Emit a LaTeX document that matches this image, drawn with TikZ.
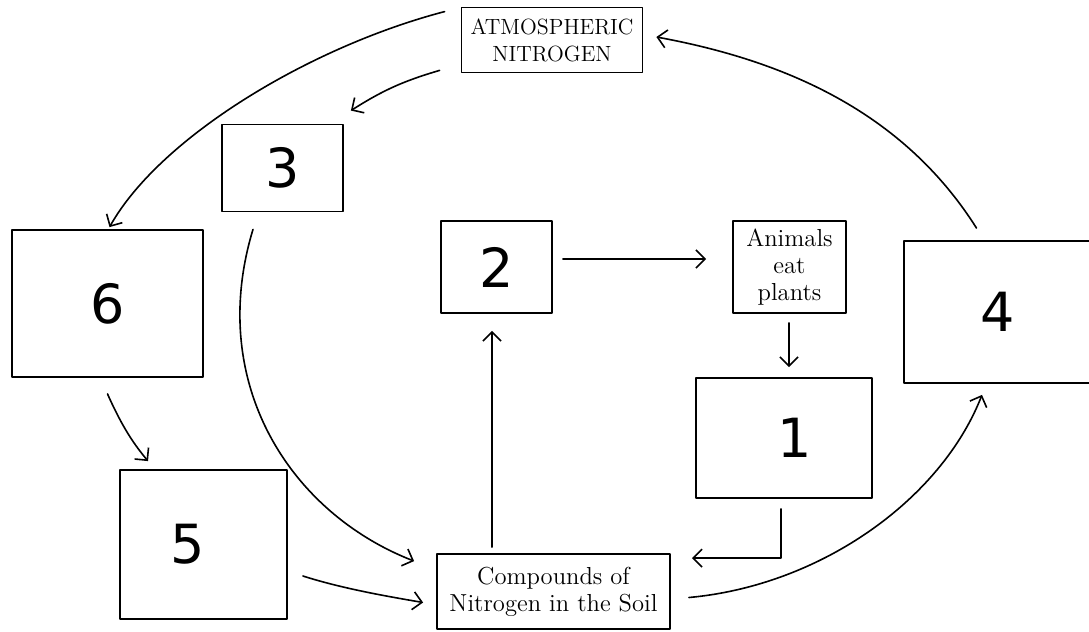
\documentclass[tikz,border=0pt]{standalone}
\usepackage{fontspec}
\newfontfamily\handfont{DejaVu Sans}
\usetikzlibrary{arrows.meta}
\tikzset{
	box/.style={draw, line width=0.9pt, inner sep=0pt, align=center, font=\fontsize{11}{13.5}\selectfont},
	bigbox/.style={box, font=\fontsize{12.3}{13.5}\selectfont},
	digit/.style={font=\handfont\fontsize{27}{30}\selectfont},
	numbox/.style={draw, line width=0.9pt, inner sep=0pt, digit},
	flow/.style={->, line width=0.8pt}
}
\begin{document}
\begin{tikzpicture}[x=0.5pt, y=-0.5pt, line join=round, line cap=round, >={Straight Barb[length=4.5pt,width=9pt]}]
			\useasboundingbox (0,0) rectangle (1089,632);
			\node[box, minimum width=90.5pt, minimum height=32.5pt] (atm) at (552,40) {ATMOSPHERIC\\NITROGEN};
			\node[numbox, minimum width=60.5pt, minimum height=43.5pt] (b3) at (282.5,168) {3};
			\node[numbox, minimum width=95.5pt, minimum height=73.5pt] (b6) at (107.5,303.5) {6};
			\node[numbox, minimum width=55.5pt, minimum height=46pt] (b2) at (496.5,267) {2};
			\node[bigbox, minimum width=56.5pt, minimum height=46pt] (anim) at (789.5,267) {Animals\\eat\\plants};
			\node[numbox, minimum width=88pt, minimum height=60pt] (b1) at (784,438) {};
			\node[digit] (d1) at ([xshift=5.5pt]b1.center) {1};
			\node[numbox, minimum width=94pt, minimum height=71pt] (b4) at (998,312) {4};
			\node[numbox, minimum width=83.5pt, minimum height=74.5pt] (b5) at (203.5,544.5) {};
			\node[digit] (d5) at ([xshift=-8pt]b5.center) {5};
			\node[bigbox, minimum width=116.5pt, minimum height=37.5pt] (soil) at (553.5,591.5) {Compounds of\\Nitrogen in the Soil};
			\draw[flow] ([xshift=-8pt,yshift=-2.5pt]atm.north west) .. controls ([xshift=-75pt,yshift=-20pt]atm.north west) and ([xshift=-150pt,yshift=-65pt]atm.north west) .. ([xshift=1pt,yshift=1pt]b6.north);
			\draw[flow] ([xshift=-10.5pt,yshift=1.5pt]atm.south west) to[bend right=8] ([xshift=3.5pt,yshift=6.5pt]b3.north east);
			\draw[flow] ([xshift=-10.75pt,yshift=6pt]b4.north) .. controls ([xshift=-48pt,yshift=65pt]b4.north) and ([xshift=-108pt,yshift=90pt]b4.north) .. ([xshift=6.5pt,yshift=1.5pt]atm.east);
			\draw[flow] ([xshift=-14.75pt,yshift=-8.5pt]b3.south) .. controls ([xshift=-38pt,yshift=-85pt]b3.south) and ([xshift=3.5pt,yshift=-150pt]b3.south) .. ([xshift=-11pt,yshift=-4pt]soil.north west);
			\draw[flow] ([yshift=-8pt]b6.south) .. controls ([xshift=8pt,yshift=-26pt]b6.south) and ([xshift=14pt,yshift=-34pt]b6.south) .. ([xshift=-27.75pt,yshift=4pt]b5.north);
			\draw[flow] ([xshift=7.5pt,yshift=-15.75pt]b5.east) .. controls ([xshift=27pt,yshift=-22pt]b5.east) and ([xshift=50pt,yshift=-26pt]b5.east) .. ([xshift=-6.5pt,yshift=-5.5pt]soil.west);
			\draw[flow] ([xshift=-2.25pt,yshift=3pt]b2.south |- soil.north) -- ([xshift=-2.25pt,yshift=-8.5pt]b2.south);
			\draw[flow] ([xshift=5pt,yshift=4pt]b2.east) -- ([xshift=-13pt,yshift=4pt]anim.west);
			\draw[flow] ([xshift=-0.25pt,yshift=-4.5pt]anim.south) -- ([xshift=-0.25pt,yshift=5pt]anim.south |- b1.north);
			\draw[flow] ([xshift=-1.5pt,yshift=-5pt]b1.south) |- ([xshift=10.5pt,yshift=-2.5pt]soil.north east);
			\draw[flow] ([xshift=9pt,yshift=-3pt]soil.east) .. controls ([xshift=75pt,yshift=3pt]soil.east) and ([xshift=135pt,yshift=46pt]soil.east) .. ([xshift=-8pt,yshift=-5.5pt]b4.south);
		\end{tikzpicture}
\end{document}
